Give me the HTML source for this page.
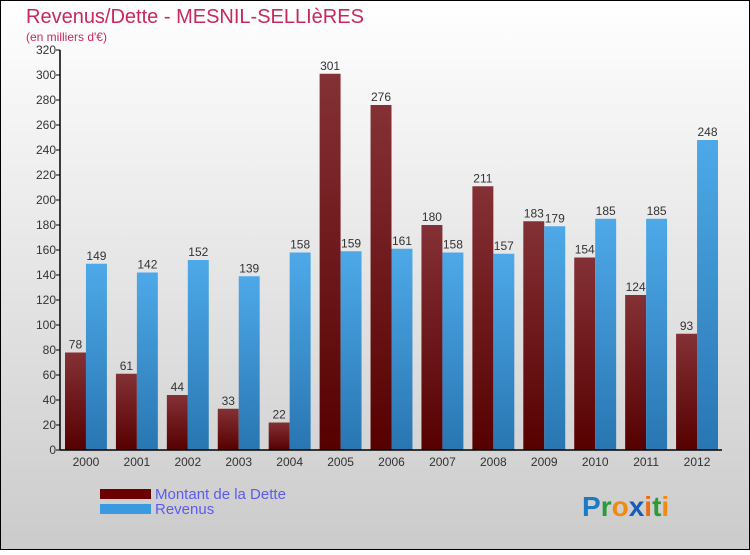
<!DOCTYPE html>
<html><head><meta charset="utf-8"><style>
body{margin:0}
svg text{font-family:"Liberation Sans",sans-serif}
</style></head><body>
<svg width="750" height="550" xmlns="http://www.w3.org/2000/svg">
<defs>
<linearGradient id="bg" x1="0" y1="0" x2="0" y2="1"><stop offset="0" stop-color="#ffffff"/><stop offset="1" stop-color="#cbcbcb"/></linearGradient>
<linearGradient id="gd" x1="0" y1="0" x2="0" y2="1"><stop offset="0" stop-color="#843136"/><stop offset="1" stop-color="#560000"/></linearGradient>
<linearGradient id="gr" x1="0" y1="0" x2="0" y2="1"><stop offset="0" stop-color="#4ea9e8"/><stop offset="1" stop-color="#2876b2"/></linearGradient>
</defs>
<rect x="0.5" y="0.5" width="749" height="549" fill="url(#bg)" stroke="#000"/>
<text x="26" y="23" font-size="20" fill="#c8285a">Revenus/Dette - MESNIL-SELLIèRES</text>
<text x="26" y="41" font-size="12" fill="#c8285a">(en milliers d'€)</text>
<g id="plot"></g>
<g>
<rect x="100" y="489" width="51" height="10" fill="#6a0000"/>
<text x="155" y="499" font-size="15" fill="#5b5bf0">Montant de la Dette</text>
<rect x="100" y="504" width="51" height="10" fill="#3a9ae0"/>
<text x="155" y="514" font-size="15" fill="#5b5bf0">Revenus</text>
</g>
<text x="582" y="516" font-size="28" font-weight="bold"><tspan fill="#1a7ac8">P</tspan><tspan fill="#2a9a3a">r</tspan><tspan fill="#f08a10">o</tspan><tspan fill="#1a5ab8">x</tspan><tspan fill="#f06a10">i</tspan><tspan fill="#2a9a3a">t</tspan><tspan fill="#f08a10">i</tspan></text>
</svg>
<script>
const years=["2000","2001","2002","2003","2004","2005","2006","2007","2008","2009","2010","2011","2012"];
const dette=[78,61,44,33,22,301,276,180,211,183,154,124,93];
const revenus=[149,142,152,139,158,159,161,158,157,179,185,185,248];
const yTicks=[0,20,40,60,80,100,120,140,160,180,200,220,240,260,280,300,320];
const NS="http://www.w3.org/2000/svg";
const g=document.getElementById('plot');
const x0=60,x1=722,yb=450,yt=50,ymax=320;
const gw=(x1-x0)/years.length;
const Y=v=>yb-(v/ymax)*(yb-yt);
const X=i=>x0+i*gw;
function mk(t,a){const e=document.createElementNS(NS,t);for(const k in a)e.setAttribute(k,a[k]);g.appendChild(e);return e;}
yTicks.forEach(v=>{
 const l=mk('line',{x1:x0-4,x2:x0,y1:Y(v),y2:Y(v),stroke:'#000'});
 
 
 const t=mk('text',{x:x0-4,y:Y(v)+4,'font-size':12,'text-anchor':'end',fill:'#333'});
 t.textContent=v;
 
 
});
years.forEach((yr,i)=>{
 const bx=X(i)+5,bw=(gw-9)/2;
 const hd=yb-Y(dette[i]);
 const r1=mk('rect',{x:bx,y:Y(dette[i]),width:bw,height:hd,fill:'url(#gd)'});
 
 
 const r2=mk('rect',{x:bx+bw,y:Y(revenus[i]),width:bw,height:yb-Y(revenus[i]),fill:'url(#gr)'});
 
 
 const t1=mk('text',{x:bx+bw/2,y:Y(dette[i])-4,'font-size':12,'text-anchor':'middle',fill:'#333'});
 t1.textContent=dette[i];
 
 
 const t2=mk('text',{x:bx+bw*1.5,y:Y(revenus[i])-4,'font-size':12,'text-anchor':'middle',fill:'#333'});
 t2.textContent=revenus[i];
 
 
 const t3=mk('text',{x:bx+bw,y:yb+16,'font-size':12,'text-anchor':'middle',fill:'#333'});
 t3.textContent=yr;
 
 
});
const ya=mk('line',{x1:x0,x2:x0,y1:yt,y2:yb,stroke:'#000','stroke-width':1.5});


const xa=mk('line',{x1:x0,x2:x1,y1:yb,y2:yb,stroke:'#000','stroke-width':1.5});


</script>
</body></html>
